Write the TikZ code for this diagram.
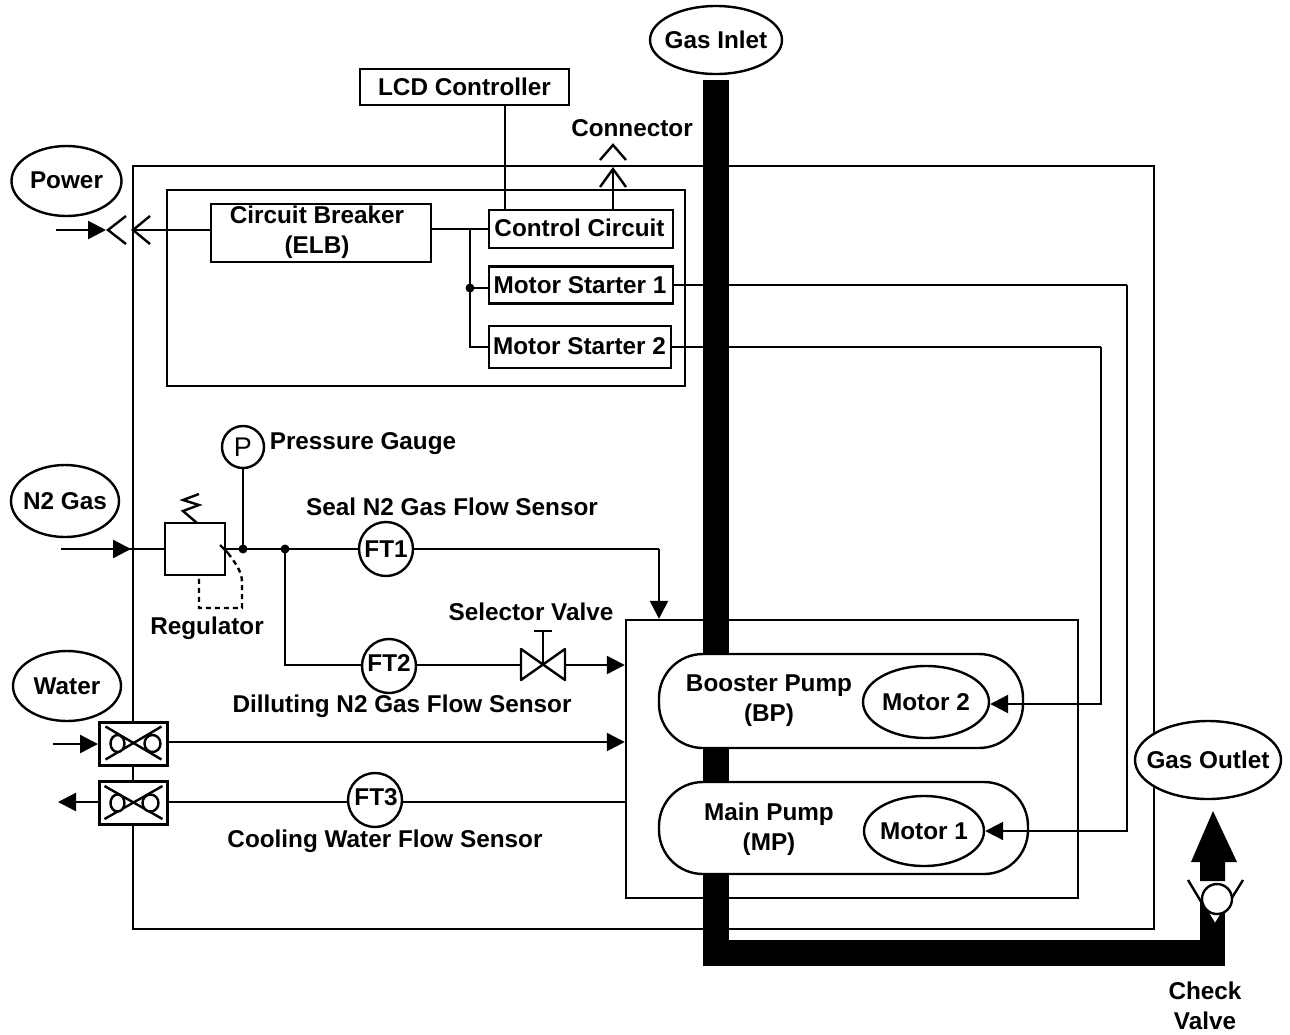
\documentclass[tikz,border=0pt]{standalone}
\usepackage{fontspec}
\setmainfont{Liberation Sans}
\usetikzlibrary{shapes.geometric, arrows.meta, positioning}

\begin{document}
\begin{tikzpicture}[
  x=1pt, y=-1pt,
  line width=2.4pt,
  font=\fontsize{24.3}{30}\selectfont\bfseries,
  every node/.style={align=center, inner sep=0pt},
  port/.style    ={ellipse, draw, fill=white, inner sep=-14pt},
  unit/.style    ={rectangle, draw, fill=white},
  frame/.style   ={rectangle, draw},
  pump/.style    ={rectangle, rounded corners=44pt, draw, fill=white},
  flow/.style    ={circle, draw, fill=white, minimum size=54pt},
  shut/.style    ={rectangle, draw, fill=white, line width=3pt, minimum width=68pt, minimum height=43pt},
  junction/.style={circle, fill=black, minimum size=9pt},
  arr/.style     ={-{Triangle[length=18pt, width=18pt]}},
  pipe/.style    ={line width=25.5pt, line cap=butt, line join=miter}
]
\useasboundingbox (0,0) rectangle (1290,1034);
\fill[white] (0,0) rectangle (1290,1034);

% Enclosures
\node[frame, minimum width=1021pt, minimum height=763pt] (cabinet)  at (643.5,547.5) {};
\node[frame, minimum width=518pt,  minimum height=196pt] (panel)    at (426,288) {};
\node[frame, minimum width=452pt,  minimum height=278pt] (pumpzone) at (852,759) {};

% Outside connections
\node[port, minimum width=110pt, minimum height=70pt] (power)  at (66.5,181) {\raisebox{2pt}{Power}};
\node[port, minimum width=108pt, minimum height=72pt] (n2gas)  at (65,501)   {N2 Gas};
\node[port, minimum width=108pt, minimum height=70pt] (water)  at (67,686)   {Water};
\node[port, minimum width=132pt, minimum height=68pt] (inlet)  at (716,40)   {Gas Inlet};
\node[port, minimum width=146pt, minimum height=78pt] (outlet) at (1208,760) {Gas Outlet};

% Control panel
\node[unit, minimum width=209pt, minimum height=36pt] (lcd)      at (464.5,87) {LCD Controller};
\node[unit, minimum width=220pt, minimum height=58pt] (breaker)  at (321,233)  {};
\node[unit, minimum width=184pt, minimum height=38pt] (control)  at (581,229)  {};
\node[unit, minimum width=184pt, minimum height=37pt] (starter1) at (581,285)  {};
\node[unit, minimum width=182pt, minimum height=42pt] (starter2) at (580,347)  {};
\node (controltxt)  at (579.5,227.5) {Control Circuit};
\node (starter1txt) at (580,285)   {Motor Starter 1};
\node (starter2txt) at (579.5,346) {Motor Starter 2};
\node (breakertxt)  at (317,232)   {Circuit Breaker\\(ELB)};
\node[junction] (busdot) at (470,288) {};
\coordinate (busbend) at (470,229);
\coordinate (connpin) at (613,169);
\coordinate (powerpin) at (133,230);
\coordinate (powerin)  at (56,230);
\coordinate (powerend) at (106,230);

\draw (breaker.east |- busbend) -- (control.west);
\draw (busbend) -- (busdot.center) |- (starter2.west);
\draw (busdot.center) -- (busdot.center -| starter1.west);
\draw ([xshift=40.5pt]lcd.south) -- ([xshift=-76pt]control.north);
\draw ([xshift=32pt]control.north) -- (connpin);
\draw (connpin) ++(-13,18) -- (connpin) -- ++(13,18);
\draw (613,160) ++(-13,0) -- (613,145) -- (626,160);
\draw ([yshift=3pt]breaker.west) -- (powerpin);
\draw (powerpin) ++(17,-14) -- (powerpin) -- ++(17,14);
\draw (126,216) -- (108,230) -- (126,244);
\draw[arr] (powerin) -- (powerend);

% N2 lines
\node[unit, minimum width=60pt, minimum height=52pt] (regulator) at (195,549) {};
\node[junction] (gaugedot) at (243,549) {};
\node[junction] (splitdot) at (285,549) {};
\node[circle, draw, fill=white, minimum size=42pt, font=\fontsize{27}{30}\selectfont\mdseries] (gauge) at (243,447) {P};
\node[flow] (ft1) at (386,549) {FT1};
\coordinate (valve) at (543,665);
\coordinate (n2in) at (61,549);
\coordinate (sealdrop) at (659,549);

\draw (n2in) -- (regulator.west);
\draw[arr] (n2in) -- (131,549);
\draw (regulator.east) -- (ft1.west);
\draw (gauge.south) -- (gaugedot.center);
\draw (ft1.east) -- (sealdrop);
\draw[arr] (sealdrop) -- (sealdrop |- pumpzone.north);
\draw (splitdot.center) |- (valve);
\draw[arr] (valve) -- (valve -| pumpzone.west);
\node[flow] (ft2) at (389,666) {};
\node (ft2txt) at (389,663) {FT2};
\draw[fill=white, line join=round] (521,649) -- (565,680) -- (565,649) -- (521,680) -- cycle;
\draw (valve) -- (543,631);
\draw (534,631) -- (552,631);
\draw (197,523) -- (183,511) -- (199,505) -- (183,500) -- (199,494);
\draw (220,545) -- (228,553);
\draw[dash pattern=on 5pt off 4pt] (228,553) .. controls (236,564) and (242,572) .. (242,582) -- (242,608) -- (199,608) -- (199,575);

% Water lines
\node[shut] (waterin)  at (133.5,743.5) {};
\node[shut] (waterout) at (133.5,803)   {};
\node[flow] (ft3) at (375,800) {};
\node (ft3txt) at (376,797) {FT3};
\coordinate (wateradd) at (53,744);
\coordinate (waterend) at (58,802);

\draw[arr] (wateradd) -- (waterin.west |- wateradd);
\draw[arr] ([yshift=1.5pt]waterin.east) -- ([yshift=1.5pt]waterin.east -| pumpzone.west);
\draw (pumpzone.west |- waterend) -- (ft3.east |- waterend);
\draw (ft3.west |- waterend) -- (waterout.east |- waterend);
\draw[arr] (waterout.west |- waterend) -- (waterend);

\foreach \nm/\lx/\rx/\dx in {waterin/-16/19/28, waterout/-16/17/29} {
  \draw (\nm) ++(-\dx,-17) -- ++(2*\dx,33);
  \draw (\nm) ++(-\dx,16) -- ++(2*\dx,-33);
  \draw[fill=white] (\nm) ++(\lx,0) ellipse (7pt and 8.5pt);
  \draw[fill=white] (\nm) ++(\rx,0) ellipse (8pt and 8.5pt);
}

% Motor feeds, first run passes under the pipe
\coordinate (feed1) at (1127,285);
\coordinate (feed2) at (1101,347);
\draw (starter1.east) -- (feed1);
\draw (starter2.east) -- (feed2);

% Gas pipe
\coordinate (pipecorner) at (716,953);
\coordinate (pipeturn)   at (1212.5,953);
\coordinate (pipeend)    at (1212.5,895);
\draw[pipe, shorten <=5pt] (inlet.south) -- (pipecorner) -- (pipeturn) -- (pipeend);
\fill[white] (1188,880) -- (1215,925) -- (1243,880) -- cycle;
\draw (1188,880) -- (1215,925) -- (1243,880);
\node[circle, draw, fill=white, minimum size=30pt] (checkball) at (1217,899) {};
\fill (1213,811) -- (1237,862) -- (1225,862) -- (1225,881) -- (1200,881) -- (1200,862) -- (1191,862) -- cycle;

% Pumps on top of the pipe
\node[pump, minimum width=364pt, minimum height=94pt] (booster)  at (841,701) {};
\node[pump, minimum width=369pt, minimum height=92pt] (mainpump) at (843.5,828) {};
\node (boostertxt) at (769,701) {Booster Pump\\(BP)};
\node (mainpumptxt) at (769,829) {Main Pump\\(MP)};
\node[port, minimum width=126pt, minimum height=72pt] (motor2) at (926,702) {Motor 2};
\node[port, minimum width=120pt, minimum height=70pt] (motor1) at (924,831) {Motor 1};
\draw[arr] (feed1) |- (motor1.east);
\draw[arr] (feed2) |- ([yshift=-2pt]motor2.east);

% Labels
\node (connlbl)  at (632,128)  {Connector};
\node (gaugelbl) at (363,443.5) {Pressure Gauge};
\node (seallbl)  at (452,507)  {Seal N2 Gas Flow Sensor};
\node (sellbl)   at (531,612)  {Selector Valve};
\node (reglbl)   at (207,628)  {Regulator};
\node (dillbl)   at (402,706.5) {Dilluting N2 Gas Flow Sensor};
\node (coollbl)  at (385,841)  {Cooling Water Flow Sensor};
\node (checklbl) at (1205,1006) {Check\\Valve};
\end{tikzpicture}
\end{document}
